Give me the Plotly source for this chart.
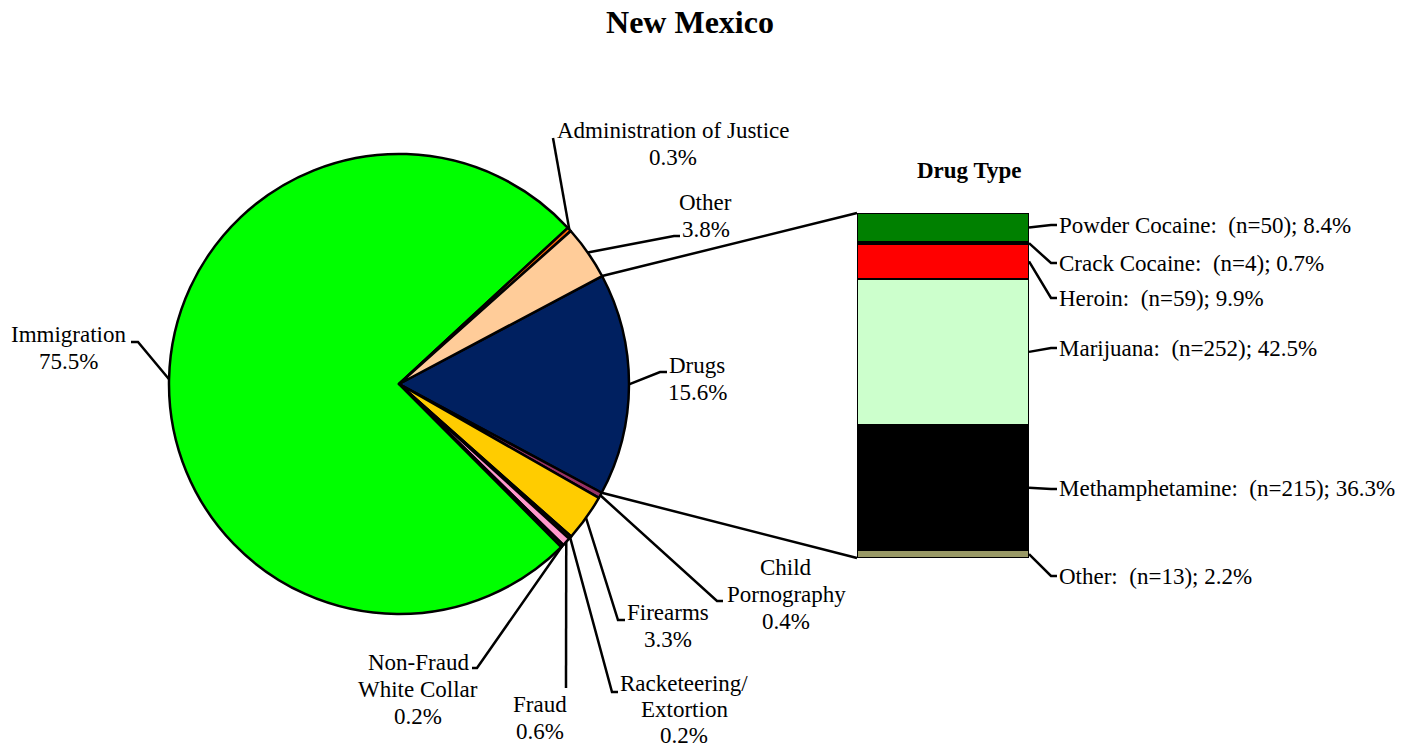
import math
import plotly.graph_objects as go

W, H = 1401, 749

# ---------------- data ----------------
offense_labels = ["Drugs", "Child Pornography", "Firearms", "Racketeering/Extortion",
                  "Fraud", "Non-Fraud White Collar", "Immigration",
                  "Administration of Justice", "Other"]
offense_pct = [15.6, 0.4, 3.3, 0.2, 0.6, 0.2, 75.5, 0.3, 3.8]
offense_colors = ["#002060", "#993366", "#FFCC00", "#4D2600", "#FF99CC",
                  "#1A3300", "#00FF00", "#FF6600", "#FFCC99"]
offense_text_lines = [["Drugs"], ["Child", "Pornography"], ["Firearms"],
                      ["Racketeering/", "Extortion"], ["Fraud"],
                      ["Non-Fraud", "White Collar"], ["Immigration"],
                      ["Administration of Justice"], ["Other"]]

# drug types, listed bottom to top of the stacked bar
drug_types = ["Other", "Methamphetamine", "Marijuana", "Heroin", "Crack Cocaine", "Powder Cocaine"]
drug_n = [13, 215, 252, 59, 4, 50]
drug_pct = [2.2, 36.3, 42.5, 9.9, 0.7, 8.4]
drug_colors = ["#999966", "#000000", "#CCFFCC", "#FF0000", "#000000", "#008000"]

# ---------------- layout geometry (pixels) ----------------
CX, CY, R = 399, 384, 230
ROT = 62  # degrees clockwise from 12 o'clock where the first slice starts
BAR_L, BAR_R, BAR_T, BAR_B = 857, 1029, 213, 558
FONT = "Liberation Serif, Times New Roman, serif"
FS = 23
LS = 27  # line spacing in px


def px(x):
    return x / W


def py(y):
    return 1 - y / H


def edge_point(deg):
    a = math.radians(deg)
    return CX + R * math.sin(a), CY - R * math.cos(a)


total = sum(offense_pct)
cum = 0.0
start_deg, mid_deg, end_deg = [], [], []
for v in offense_pct:
    s = ROT + 360 * cum / total
    e = ROT + 360 * (cum + v) / total
    start_deg.append(s)
    mid_deg.append((s + e) / 2)
    end_deg.append(e)
    cum += v

fig = go.Figure()

fig.add_trace(go.Pie(
    labels=offense_labels, values=offense_pct, sort=False, direction="clockwise",
    rotation=ROT, textinfo="none", hoverinfo="label+percent",
    marker=dict(colors=offense_colors, line=dict(color="black", width=2.5)),
    domain=dict(x=[px(CX - R), px(CX + R)], y=[py(CY + R), py(CY - R)]),
    showlegend=False,
))

for name, v, c in zip(drug_types, drug_pct, drug_colors):
    fig.add_trace(go.Bar(
        x=[0], y=[v], name=name, marker=dict(color=c, line=dict(color="black", width=2.5)),
        width=1, showlegend=False, xaxis="x", yaxis="y",
    ))

shapes = []
annotations = []


def line_path(points):
    d = "M " + " L ".join(f"{px(x):.5f},{py(y):.5f}" for x, y in points)
    shapes.append(dict(type="path", path=d, xref="paper", yref="paper",
                       line=dict(color="black", width=2.5)))


def text_block(lines, cx, cy, anchor="center", bold=False, size=FS, ls=LS):
    n = len(lines)
    for k, t in enumerate(lines):
        y = cy + (k - (n - 1) / 2) * ls
        annotations.append(dict(x=px(cx), y=py(y), xref="paper", yref="paper",
                                text=f"<b>{t}</b>" if bold else t, showarrow=False,
                                xanchor=anchor, yanchor="middle", borderpad=0,
                                font=dict(family=FONT, size=size, color="black")))


# pie leader lines: (elbow, end), label centre, line spacing
pie_label_pos = {
    "Drugs": ((660, 372), (667, 372), (697, 379), LS),
    "Child Pornography": ((717, 601), (723, 601), (786, 594), LS),
    "Firearms": ((618, 620), (625, 620), (668, 626), LS),
    "Racketeering/Extortion": ((612, 692), (618, 692), (684, 709), 26),
    "Fraud": ((566, 688), (566, 688), (540, 718), LS),
    "Non-Fraud White Collar": ((477, 668), (472, 668), (418, 689), LS),
    "Immigration": ((138, 342), (131, 342), (68, 348), LS),
    "Administration of Justice": ((553, 138), (553, 138), (673, 144), LS),
    "Other": ((674, 236), (680, 236), (706, 216), LS),
}

for i, lab in enumerate(offense_labels):
    elbow, end, centre, ls = pie_label_pos[lab]
    sx, sy = edge_point(mid_deg[i])
    line_path([(sx, sy), elbow, end])
    text_block(offense_text_lines[i] + [f"{offense_pct[i]}%"], centre[0], centre[1], ls=ls)

# connector lines from the Drugs slice to the bar
di = offense_labels.index("Drugs")
line_path([edge_point(start_deg[di]), (BAR_L, BAR_T)])
line_path([edge_point(end_deg[di]), (BAR_L, BAR_B)])

# drug label leaders
drug_label_y = {"Powder Cocaine": 225, "Crack Cocaine": 263, "Heroin": 298,
                "Marijuana": 348, "Methamphetamine": 489, "Other": 576}
cum = 0.0
bar_h = BAR_B - BAR_T
for name, n, v in zip(drug_types, drug_n, drug_pct):
    mid = BAR_B - bar_h * (cum + v / 2) / 100
    cum += v
    ly = drug_label_y[name]
    line_path([(BAR_R, mid), (1051, ly), (1057, ly)])
    text_block([f"{name}:  (n={n}); {v}%"], 1058, ly, anchor="left")

text_block(["Drug Type"], 969, 171, bold=True)

fig.update_layout(
    width=W, height=H, margin=dict(l=0, r=0, t=0, b=0),
    paper_bgcolor="white", plot_bgcolor="white",
    barmode="stack", bargap=0,
    title=dict(text="<b>New Mexico</b>", x=px(690), y=py(22), xanchor="center", yanchor="middle",
               font=dict(family=FONT, size=32, color="black")),
    xaxis=dict(domain=[px(BAR_L), px(BAR_R)], range=[-0.5, 0.5], visible=False, fixedrange=True),
    yaxis=dict(domain=[py(BAR_B), py(BAR_T)], range=[0, 100], visible=False, fixedrange=True),
    shapes=shapes, annotations=annotations,
)

fig.write_html("out.html", config={"displayModeBar": False},
               post_script="document.body.style.margin='0';")
